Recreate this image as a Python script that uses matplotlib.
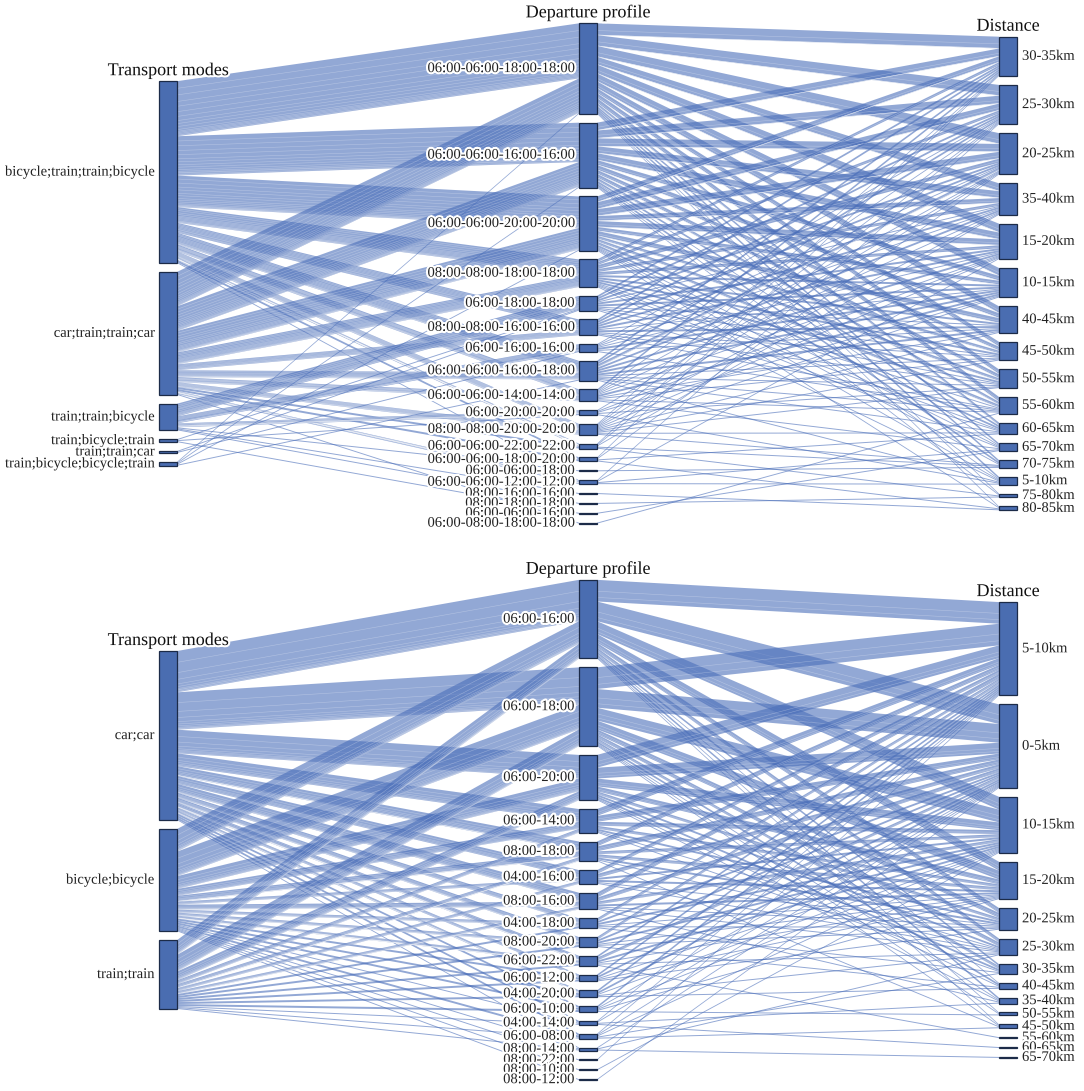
import numpy as np
import matplotlib
matplotlib.use("Agg")
import matplotlib.pyplot as plt
from matplotlib.patches import Polygon, Rectangle
import matplotlib.patheffects as pe

plt.rcParams['font.family'] = ['Liberation Serif', 'DejaVu Serif']

# ---------------- data : top panel ----------------
top_modes = ["bicycle;train;train;bicycle", "car;train;train;car", "train;train;bicycle",
             "train;bicycle;train", "train;train;car", "train;bicycle;bicycle;train"]
top_deps = ["06:00-06:00-18:00-18:00", "06:00-06:00-16:00-16:00", "06:00-06:00-20:00-20:00",
            "08:00-08:00-18:00-18:00", "06:00-18:00-18:00", "08:00-08:00-16:00-16:00",
            "06:00-16:00-16:00", "06:00-06:00-16:00-18:00", "06:00-06:00-14:00-14:00",
            "06:00-20:00-20:00", "08:00-08:00-20:00-20:00", "06:00-06:00-22:00-22:00",
            "06:00-06:00-18:00-20:00", "06:00-06:00-18:00", "06:00-06:00-12:00-12:00",
            "08:00-16:00-16:00", "08:00-18:00-18:00", "06:00-06:00-16:00",
            "06:00-08:00-18:00-18:00"]
top_dists = ["30-35km", "25-30km", "20-25km", "35-40km", "15-20km", "10-15km", "40-45km",
             "45-50km", "50-55km", "55-60km", "60-65km", "65-70km", "70-75km", "5-10km",
             "75-80km", "80-85km"]
# mode -> departure counts (rows: modes, cols: departure profiles)
top_mode_dep = [
    [56, 40, 32, 16, 0, 10, 0, 12, 7, 0, 6, 3, 2, 0, 1, 0, 0, 0, 0],
    [35, 25, 22, 12, 0, 6, 0, 7, 5, 0, 5, 2, 2, 0, 3, 0, 0, 0, 1],
    [0, 0, 0, 0, 13, 0, 7, 0, 0, 4, 0, 0, 0, 1, 0, 1, 1, 0, 0],
    [0, 0, 0, 0, 1, 0, 0, 0, 0, 1, 0, 0, 0, 0, 0, 0, 0, 1, 0],
    [0, 0, 0, 0, 1, 0, 1, 0, 0, 0, 0, 0, 0, 0, 0, 0, 0, 0, 0],
    [1, 1, 1, 0, 0, 0, 0, 1, 0, 0, 0, 0, 0, 0, 0, 0, 0, 0, 0],
]
# departure -> distance counts
top_dep_dist = [
    [12, 11, 11, 8, 9, 8, 7, 5, 5, 5, 3, 2, 2, 2, 1, 1],
    [8, 8, 8, 7, 7, 5, 5, 4, 4, 3, 2, 1, 2, 1, 1, 0],
    [6, 7, 7, 5, 6, 4, 5, 3, 3, 3, 2, 1, 1, 1, 0, 1],
    [3, 3, 4, 3, 3, 2, 2, 2, 2, 1, 1, 1, 0, 1, 0, 0],
    [2, 2, 2, 1, 2, 2, 1, 1, 1, 0, 1, 0, 0, 0, 0, 0],
    [2, 2, 2, 2, 2, 1, 2, 1, 1, 1, 0, 0, 0, 0, 0, 0],
    [0, 1, 1, 1, 1, 2, 1, 0, 0, 1, 0, 0, 0, 0, 0, 0],
    [2, 2, 3, 2, 2, 2, 2, 1, 1, 1, 1, 0, 0, 1, 0, 0],
    [2, 1, 1, 1, 1, 2, 1, 1, 0, 1, 0, 1, 0, 0, 0, 0],
    [0, 0, 1, 0, 1, 1, 0, 0, 1, 0, 0, 0, 0, 1, 0, 0],
    [1, 1, 1, 1, 1, 1, 1, 1, 1, 0, 1, 0, 1, 0, 0, 0],
    [1, 1, 0, 1, 0, 0, 0, 0, 0, 0, 0, 0, 1, 0, 1, 0],
    [1, 0, 1, 0, 0, 0, 0, 0, 0, 0, 1, 0, 0, 0, 0, 1],
    [0, 0, 0, 0, 0, 0, 0, 0, 0, 0, 0, 0, 1, 0, 0, 0],
    [0, 1, 0, 0, 1, 0, 0, 0, 0, 0, 0, 1, 0, 1, 0, 0],
    [0, 0, 0, 0, 0, 0, 0, 0, 0, 0, 0, 0, 0, 0, 0, 1],
    [0, 0, 0, 0, 0, 0, 0, 0, 0, 0, 0, 0, 0, 0, 1, 0],
    [0, 0, 0, 0, 0, 0, 0, 0, 0, 0, 0, 1, 0, 0, 0, 0],
    [0, 0, 0, 0, 0, 0, 0, 0, 0, 1, 0, 0, 0, 0, 0, 0],
]

# ---------------- data : bottom panel ----------------
bot_modes = ["car;car", "bicycle;bicycle", "train;train"]
bot_deps = ["06:00-16:00", "06:00-18:00", "06:00-20:00", "06:00-14:00", "08:00-18:00",
            "04:00-16:00", "08:00-16:00", "04:00-18:00", "08:00-20:00", "06:00-22:00",
            "06:00-12:00", "04:00-20:00", "06:00-10:00", "04:00-14:00", "06:00-08:00",
            "08:00-14:00", "08:00-22:00", "08:00-10:00", "08:00-12:00"]
bot_dists = ["5-10km", "0-5km", "10-15km", "15-20km", "20-25km", "25-30km", "30-35km",
             "40-45km", "35-40km", "50-55km", "45-50km", "55-60km", "60-65km", "65-70km"]
bot_mode_dep = [
    [42, 38, 24, 13, 10, 8, 9, 5, 5, 5, 3, 3, 2, 2, 2, 1, 0, 0, 0],
    [23, 25, 13, 7, 6, 3, 5, 3, 3, 3, 2, 2, 2, 1, 2, 1, 1, 1, 1],
    [15, 17, 9, 4, 4, 3, 3, 2, 2, 2, 2, 2, 2, 1, 1, 1, 0, 0, 0],
]
bot_dep_dist = [
    [22, 20, 13, 9, 5, 4, 2, 1, 2, 1, 1, 0, 0, 0],
    [22, 19, 13, 9, 5, 4, 3, 2, 1, 1, 1, 0, 0, 0],
    [13, 11, 8, 5, 3, 2, 2, 1, 1, 0, 0, 0, 0, 0],
    [7, 6, 4, 3, 2, 1, 1, 0, 0, 0, 0, 0, 0, 0],
    [5, 5, 3, 3, 2, 1, 0, 0, 0, 0, 1, 0, 0, 0],
    [4, 4, 2, 2, 1, 1, 0, 0, 0, 0, 0, 0, 0, 0],
    [5, 4, 3, 2, 1, 1, 0, 0, 1, 0, 0, 0, 0, 0],
    [3, 2, 2, 1, 1, 0, 1, 0, 0, 0, 0, 0, 0, 0],
    [3, 2, 2, 1, 1, 0, 0, 1, 0, 0, 0, 0, 0, 0],
    [2, 3, 2, 1, 0, 1, 0, 0, 0, 0, 0, 1, 0, 0],
    [2, 2, 1, 1, 1, 0, 0, 0, 0, 0, 0, 0, 0, 0],
    [2, 2, 1, 0, 0, 1, 0, 1, 0, 0, 0, 0, 0, 0],
    [2, 1, 1, 1, 0, 0, 0, 0, 0, 1, 0, 0, 0, 0],
    [1, 1, 0, 0, 0, 0, 0, 0, 1, 0, 0, 0, 1, 0],
    [1, 1, 1, 0, 0, 0, 1, 0, 0, 0, 1, 0, 0, 0],
    [0, 1, 0, 0, 0, 1, 0, 0, 0, 0, 0, 0, 0, 1],
    [1, 0, 0, 0, 0, 0, 0, 0, 0, 0, 0, 0, 0, 0],
    [0, 0, 1, 0, 0, 0, 0, 0, 0, 0, 0, 0, 0, 0],
    [0, 1, 0, 0, 0, 0, 0, 0, 0, 0, 0, 0, 0, 0],
]

axis_titles = ["Transport modes", "Departure profile", "Distance"]

# ---------------- styling / layout ----------------
W, H = 1084, 1091
NODE_W = 18
X_NODES = [159, 579, 999]
SCALE = 0.983
GAP = 8.9
NODE_FC = '#4a6db1'
NODE_EC = '#1c2b48'
LINK_C = '#4a6eb9'
LINK_A = 0.6
LABEL_FS = 10.5
TITLE_FS = 13

fig = plt.figure(figsize=(W / 100, H / 100), dpi=100)
ax = fig.add_axes([0, 0, 1, 1])
ax.set_xlim(0, W)
ax.set_ylim(H, 0)
ax.axis('off')

halo = [pe.withStroke(linewidth=3, foreground='white')]


def layout(counts, center):
    counts = np.asarray(counts, float)
    total_h = SCALE * counts.sum() + GAP * (len(counts) - 1)
    y = center - total_h / 2
    pos = []
    for c in counts:
        h = SCALE * c
        pos.append((y, h))
        y += h + GAP
    return pos


def draw_stage(M, src_pos, tgt_pos, xs, xt, sub_weights, z0):
    M = np.asarray(M, float)
    ns, nt = M.shape
    src_off = [p[0] for p in src_pos]
    tgt_cursor = [p[0] for p in tgt_pos]
    seg_src = {}
    for i in range(ns):
        y = src_off[i]
        for j in range(nt):
            if M[i, j] > 0:
                seg_src[(i, j)] = (y, y + SCALE * M[i, j])
                y += SCALE * M[i, j]
    seg_tgt = {}
    for j in range(nt):
        y = tgt_cursor[j]
        for i in range(ns):
            if M[i, j] > 0:
                seg_tgt[(i, j)] = (y, y + SCALE * M[i, j])
                y += SCALE * M[i, j]
    z = z0
    for (i, j), (s0, s1) in seg_src.items():
        t0, t1 = seg_tgt[(i, j)]
        poly = Polygon([(xs, s0), (xt, t0), (xt, t1), (xs, s1)], closed=True,
                       facecolor=LINK_C, alpha=LINK_A, edgecolor='none', zorder=z)
        ax.add_patch(poly)
        w = np.asarray(sub_weights(i, j), float)
        if w.sum() > 0 and (s1 - s0) > 2.5:
            fr = np.cumsum(w)[:-1] / w.sum()
            fr = [f for f in fr if 0 < f < 1]
            for f in fr:
                ax.plot([xs, xt], [s0 + f * (s1 - s0), t0 + f * (t1 - t0)],
                        color='white', alpha=0.3, lw=0.4, zorder=z + 0.5)
        z += 1
    return z


def draw_panel(modes, deps, dists, mode_dep, dep_dist, center):
    A = np.asarray(mode_dep, float)
    B = np.asarray(dep_dist, float)
    mode_counts = A.sum(axis=1)
    dep_counts = A.sum(axis=0)
    dist_counts = B.sum(axis=0)
    pm = layout(mode_counts, center)
    pd_ = layout(dep_counts, center)
    pk = layout(dist_counts, center)

    z = draw_stage(A, pm, pd_, X_NODES[0] + NODE_W, X_NODES[1],
                   lambda i, j: B[j], 1)
    draw_stage(B, pd_, pk, X_NODES[1] + NODE_W, X_NODES[2],
               lambda i, j: A[:, i], z)

    for k, (pos, labels) in enumerate([(pm, modes), (pd_, deps), (pk, dists)]):
        x = X_NODES[k]
        for (y, h), lab in zip(pos, labels):
            ax.add_patch(Rectangle((x, y), NODE_W, max(h, 0.8), facecolor=NODE_FC,
                                   edgecolor=NODE_EC, lw=0.9, zorder=5000))
            if k < 2:
                ax.text(x - 5, y + h / 2, lab, ha='right', va='center',
                        fontsize=LABEL_FS, color='#222222', zorder=6000,
                        path_effects=halo)
            else:
                ax.text(x + NODE_W + 5, y + h / 2, lab, ha='left', va='center',
                        fontsize=LABEL_FS, color='#222222', zorder=6000,
                        path_effects=halo)
        ax.text(x + NODE_W / 2, pos[0][0] - 2, axis_titles[k], ha='center',
                va='bottom', fontsize=TITLE_FS, color='#111111', zorder=6000,
                path_effects=halo)


draw_panel(top_modes, top_deps, top_dists, top_mode_dep, top_dep_dist, 273.5)
draw_panel(bot_modes, bot_deps, bot_dists, bot_mode_dep, bot_dep_dist, 830)

fig.savefig("out.png", dpi=100, facecolor='white')
